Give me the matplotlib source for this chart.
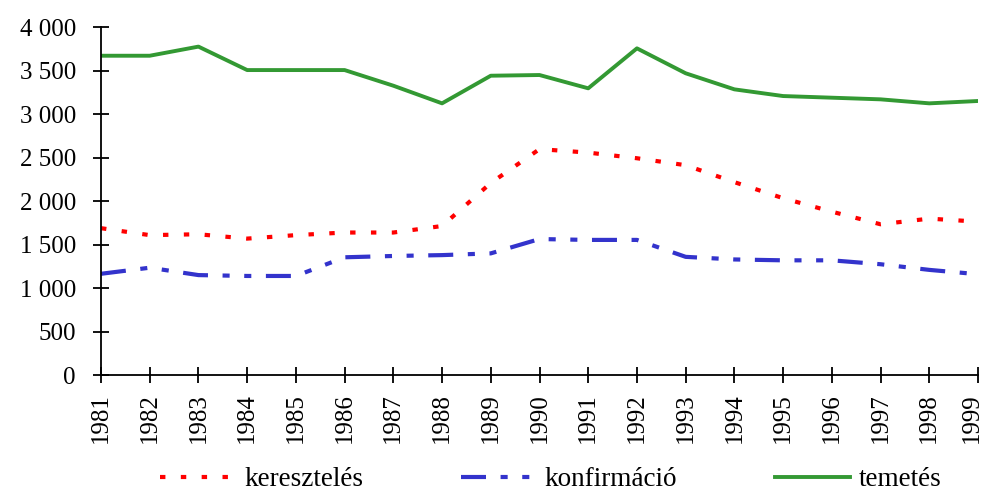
import matplotlib
matplotlib.use("Agg")
import matplotlib.pyplot as plt
import matplotlib.transforms as mtransforms
from matplotlib.ticker import FuncFormatter

years = list(range(1981, 2000))
kereszteles = [1690, 1610, 1620, 1570, 1610, 1640, 1640, 1715, 2210, 2600,
               2560, 2495, 2415, 2220, 2035, 1880, 1735, 1800, 1765]
konfirmacio = [1165, 1235, 1150, 1140, 1140, 1355, 1370, 1380, 1400, 1565,
               1555, 1555, 1360, 1330, 1320, 1320, 1275, 1210, 1160]
temetes = [3675, 3675, 3780, 3510, 3510, 3510, 3330, 3127, 3445, 3453,
           3300, 3760, 3473, 3288, 3211, 3192, 3173, 3127, 3154]
series_labels = ["keresztelés", "konfirmáció", "temetés"]
y_ticks = [0, 500, 1000, 1500, 2000, 2500, 3000, 3500, 4000]

plt.rcParams['font.family'] = ['Liberation Serif', 'DejaVu Serif']

fig = plt.figure(figsize=(9.87, 4.99), dpi=100)
ax = fig.add_axes([101/987, 1-375/499, (978-101)/987, (375-27.5)/499])

ax.plot(years, kereszteles, color='#ff0000', lw=3, linestyle=(0, (1.3, 3.7)),
        dash_capstyle='butt', label=series_labels[0])
ax.plot(years, konfirmacio, color='#3333cc', lw=3,
        linestyle=(0, (6, 3.5, 1.7, 3.5, 1.7, 3.5)), dash_capstyle='butt',
        label=series_labels[1])
ax.plot(years, temetes, color='#339933', lw=2.8, label=series_labels[2])

ax.set_xlim(years[0], years[-1])
ax.set_ylim(y_ticks[0], y_ticks[-1])
ax.set_xticks(years)
ax.set_xticklabels([str(y) for y in years], rotation=90)
ax.set_yticks(y_ticks)
ax.yaxis.set_major_formatter(FuncFormatter(lambda v, p: f"{int(v):,}".replace(",", " ")))

for s in ['top', 'right']:
    ax.spines[s].set_visible(False)
for s in ['left', 'bottom']:
    ax.spines[s].set_linewidth(1.3)
ax.tick_params(axis='both', direction='inout', length=12, width=1.3,
               labelsize=18, colors='black')
ax.tick_params(axis='x', pad=7)
ax.tick_params(axis='y', pad=12)

# keep the last rotated label inside the canvas
last = ax.get_xticklabels()[-1]
last.set_transform(last.get_transform() +
                   mtransforms.ScaledTranslation(-6/100, 0, fig.dpi_scale_trans))

fig.legend(loc='lower center', bbox_to_anchor=(0.558, -0.035), ncol=3,
           frameon=False, fontsize=19.5, handlelength=2.8, handletextpad=0.3,
           columnspacing=3.6)

fig.savefig("out.png", dpi=100)
